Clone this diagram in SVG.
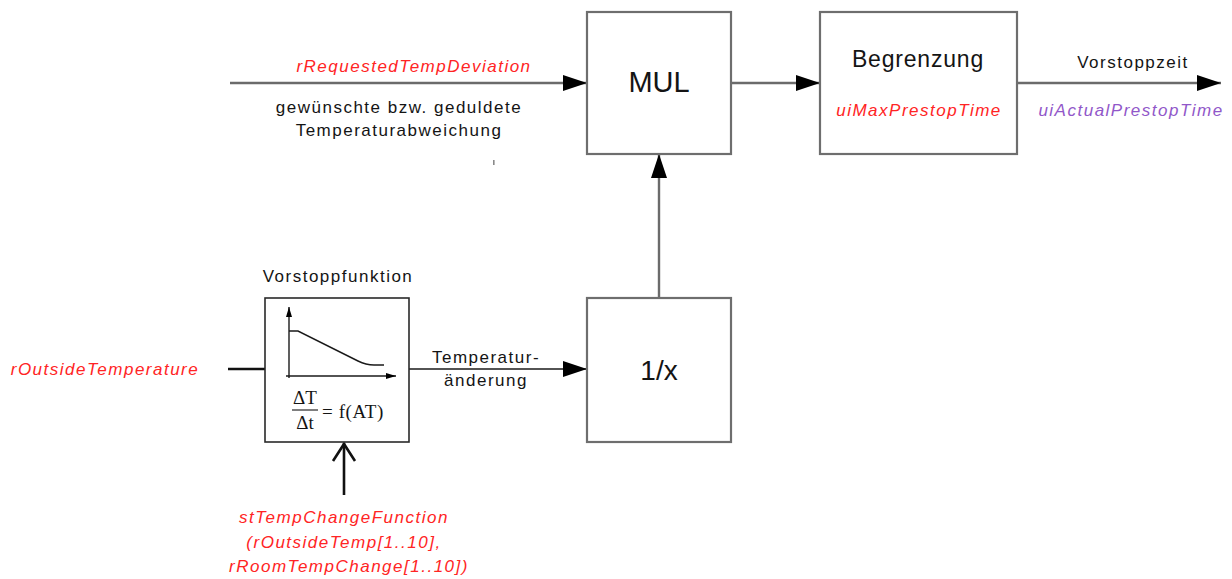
<svg xmlns="http://www.w3.org/2000/svg" width="1232" height="579" viewBox="0 0 1232 579">
<style>
  .box { fill: #fff; stroke: #6e6e6e; stroke-width: 2.2; }
  .fbox { fill: #fff; stroke: #2a2a2a; stroke-width: 1.6; }
  .conn { fill: none; stroke: #6b6b6b; stroke-width: 2.4; }
  .thin { fill: none; stroke: #1a1a1a; stroke-width: 1.4; }
  .thick { fill: none; stroke: #111; stroke-width: 2.6; }
  .t { font-family: "Liberation Sans", Arial, sans-serif; font-size: 17px; letter-spacing: 1.5px; fill: #141414; }
  .red { font-family: "Liberation Sans", Arial, sans-serif; font-size: 17px; letter-spacing: 1.5px; font-style: italic; fill: #ff2424; }
  .purple { font-family: "Liberation Sans", Arial, sans-serif; font-size: 17px; letter-spacing: 1.5px; font-style: italic; fill: #9157c9; }
  .big { font-family: "Liberation Sans", Arial, sans-serif; fill: #141414; }
  .math { font-family: "Liberation Serif", "Times New Roman", serif; font-size: 19px; fill: #141414; }
</style>
<defs>
  <marker id="arr" markerUnits="userSpaceOnUse" viewBox="0 0 24 16" refX="24" refY="8" markerWidth="24" markerHeight="16" orient="auto">
    <path d="M0,0 L24,8 L0,16 z" fill="#000"/>
  </marker>
  <marker id="sarr" markerUnits="userSpaceOnUse" viewBox="0 0 10 6" refX="10" refY="3" markerWidth="10" markerHeight="6" orient="auto">
    <path d="M0,0 L10,3 L0,6 z" fill="#000"/>
  </marker>
</defs>

<g id="connectors">
  <line class="conn" x1="230" y1="83" x2="587" y2="83" marker-end="url(#arr)"/>
  <line class="conn" x1="731" y1="83" x2="820" y2="83" marker-end="url(#arr)"/>
  <line class="conn" x1="1017" y1="83" x2="1221" y2="83" marker-end="url(#arr)"/>
  <line class="conn" x1="659" y1="298" x2="659" y2="154" marker-end="url(#arr)"/>
  <line class="thin" x1="409" y1="369" x2="587" y2="369" marker-end="url(#arr)"/>
  <line class="thick" x1="228" y1="369" x2="265" y2="369"/>
  <line class="thick" x1="344" y1="495" x2="344" y2="443"/>
  <polyline class="thick" points="333,461 344,444 355,461"/>
</g>

<g id="input-labels">
  <text class="red" x="414" y="72" text-anchor="middle">rRequestedTempDeviation</text>
  <text class="t" x="399" y="113" text-anchor="middle">gewünschte bzw. geduldete</text>
  <text class="t" x="399" y="136" text-anchor="middle">Temperaturabweichung</text>
  <rect x="493" y="160" width="1.6" height="5" fill="#8a8a8a"/>
  <text class="red" x="105" y="375" text-anchor="middle">rOutsideTemperature</text>
  <text class="t" x="486" y="363" text-anchor="middle">Temperatur-</text>
  <text class="t" x="486" y="386" text-anchor="middle">änderung</text>
  <text class="t" x="1133" y="68" text-anchor="middle">Vorstoppzeit</text>
  <text class="purple" x="1131" y="116" text-anchor="middle">uiActualPrestopTime</text>
  <text class="red" x="344" y="523" text-anchor="middle">stTempChangeFunction</text>
  <text class="red" x="344" y="548" text-anchor="middle">(rOutsideTemp[1..10],</text>
  <text class="red" x="349" y="572" text-anchor="middle">rRoomTempChange[1..10])</text>
</g>

<g id="mul">
  <rect class="box" x="587" y="12" width="144" height="142"/>
  <text class="big" x="659" y="92" font-size="29" text-anchor="middle">MUL</text>
</g>

<g id="begrenzung">
  <rect class="box" x="820" y="12" width="197" height="142"/>
  <text class="big" x="918" y="67" font-size="23" letter-spacing="0.8" text-anchor="middle">Begrenzung</text>
  <text class="red" x="919" y="116" text-anchor="middle">uiMaxPrestopTime</text>
</g>

<g id="inverse">
  <rect class="box" x="587" y="298" width="144" height="144"/>
  <text class="big" x="659" y="380" font-size="28" text-anchor="middle">1/x</text>
</g>

<g id="vorstoppfunktion">
  <text class="t" x="338" y="282" text-anchor="middle">Vorstoppfunktion</text>
  <rect class="fbox" x="265" y="298" width="144" height="144"/>
  <line class="thin" x1="289" y1="378" x2="289" y2="307" marker-end="url(#sarr)" stroke-width="1.3"/>
  <line class="thin" x1="286" y1="376" x2="396" y2="376" marker-end="url(#sarr)" stroke-width="1.3"/>
  <path class="thin" d="M289,331 L298,331 L358,361 Q366,365 374,365 L384,365" stroke-width="1.3"/>
  <text class="math" x="305" y="404" text-anchor="middle">ΔT</text>
  <line x1="292" y1="410" x2="318" y2="410" stroke="#141414" stroke-width="1.1"/>
  <text class="math" x="305" y="429" text-anchor="middle">Δt</text>
  <text class="math" x="322" y="418" letter-spacing="0.6">= f(AT)</text>
</g>
</svg>
